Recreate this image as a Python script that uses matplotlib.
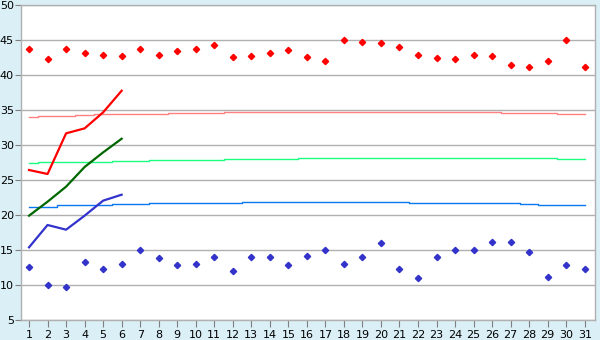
import numpy as np
import matplotlib.pyplot as plt

days = list(range(1, 32))

high_pts = [43.67, 42.24, 43.67, 43.1, 42.8, 42.67, 43.67, 42.8, 43.38, 43.67,
            44.24, 42.52, 42.67, 43.1, 43.52, 42.52, 41.95, 44.95, 44.67, 44.52,
            43.95, 42.8, 42.38, 42.24, 42.8, 42.67, 41.38, 41.1, 41.95, 44.95, 41.1]
low_pts = [12.52, 9.95, 9.67, 13.24, 12.24, 12.95, 14.95, 13.81, 12.81, 12.95,
           13.95, 11.95, 13.95, 13.95, 12.81, 14.1, 14.95, 12.95, 13.95, 15.95,
           12.24, 10.95, 13.95, 14.95, 14.95, 16.1, 16.1, 14.67, 11.1, 12.81, 12.24]

avg_red = [33.95, 34.14, 34.14, 34.29, 34.43, 34.43, 34.43, 34.43, 34.52, 34.52,
           34.52, 34.67, 34.67, 34.67, 34.67, 34.67, 34.67, 34.67, 34.67, 34.67,
           34.67, 34.67, 34.67, 34.67, 34.67, 34.67, 34.52, 34.52, 34.52, 34.38, 34.38]
avg_green = [27.38, 27.52, 27.52, 27.52, 27.52, 27.67, 27.67, 27.85, 27.85, 27.85,
             27.85, 28.05, 28.05, 28.05, 28.05, 28.2, 28.2, 28.2, 28.2, 28.2,
             28.2, 28.2, 28.2, 28.2, 28.2, 28.1, 28.1, 28.1, 28.1, 27.95, 27.95]
avg_blue = [21.1, 21.1, 21.38, 21.38, 21.38, 21.52, 21.52, 21.67, 21.67, 21.67,
            21.67, 21.67, 21.81, 21.81, 21.81, 21.81, 21.81, 21.81, 21.81, 21.81,
            21.81, 21.67, 21.67, 21.67, 21.67, 21.67, 21.67, 21.52, 21.38, 21.38, 21.38]

cur_days = [1, 2, 3, 4, 5, 6]
cur_red = [26.43, 25.86, 31.67, 32.38, 34.67, 37.76]
cur_green = [19.9, 21.9, 24.05, 26.86, 28.95, 30.9]
cur_blue = [15.38, 18.57, 17.9, 19.9, 22.05, 22.9]

bg = '#daeff6'
grid_c = '#b0b0b0'

fig = plt.figure(figsize=(6, 3.4), dpi=100, facecolor=bg)
ax = fig.add_axes([0.0345, 0.059, 0.957, 0.926])
ax.set_facecolor('white')

ax.yaxis.grid(True, color=grid_c, linewidth=1.0)
ax.set_axisbelow(True)

ax.plot(days, avg_red, color='#ff8080', linewidth=1.0, drawstyle='steps-mid')
ax.plot(days, avg_green, color='#1aff80', linewidth=1.0, drawstyle='steps-mid')
ax.plot(days, avg_blue, color='#0a78f0', linewidth=1.0, drawstyle='steps-mid')

ax.plot(cur_days, cur_red, color='#ff0000', linewidth=1.6)
ax.plot(cur_days, cur_green, color='#006600', linewidth=1.6)
ax.plot(cur_days, cur_blue, color='#3333cc', linewidth=1.6)

ax.plot(days, high_pts, linestyle='none', marker='D', markersize=3.2, color='#ff0000')
ax.plot(days, low_pts, linestyle='none', marker='D', markersize=3.2, color='#3333cc')

ax.set_xlim(0.55, 31.55)
ax.set_ylim(5, 50)
ax.set_xticks(days)
ax.set_yticks(np.arange(5, 51, 5))

for s in ax.spines.values():
    s.set_color(grid_c)
    s.set_linewidth(1.0)

ax.tick_params(axis='x', length=5, color='#808080', labelsize=8, pad=2)
ax.tick_params(axis='y', length=4, color='#808080', labelsize=8, pad=1)

fig.savefig('out.png', dpi=100, facecolor=bg)
